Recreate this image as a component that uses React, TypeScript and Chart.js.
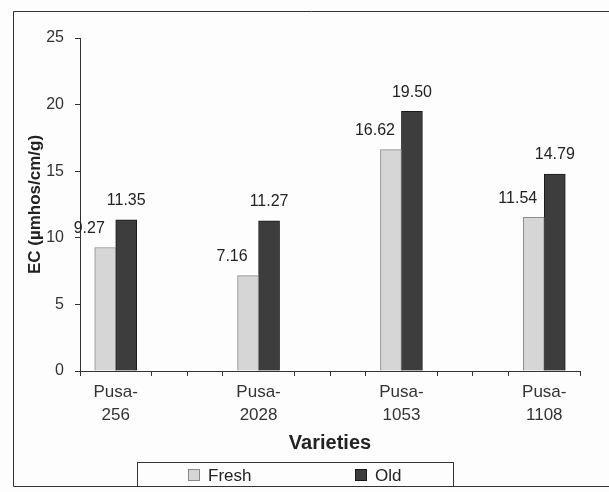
import { useEffect, useRef } from 'react';
import { Chart, registerables } from 'chart.js';

Chart.register(...registerables);

const categories: string[][] = [
  ['Pusa-', '256'],
  ['Pusa-', '2028'],
  ['Pusa-', '1053'],
  ['Pusa-', '1108'],
];
const seriesNames = ['Fresh', 'Old'];
const freshValues = [9.27, 7.16, 16.62, 11.54];
const oldValues = [11.35, 11.27, 19.5, 14.79];
const yMin = 0;
const yMax = 25;
const yStep = 5;
const xTitle = 'Varieties';
const yTitle = 'EC (µmhos/cm/g)';

const FONT = "'Liberation Sans', Arial, sans-serif";
const FRESH_FILL = '#d6d6d6';
const FRESH_BORDER = '#8a8a8a';
const OLD_FILL = '#3d3d3d';
const OLD_BORDER = '#1a1a1a';

const decorPlugin = {
  id: 'decor',
  beforeDraw(chart: any) {
    const { ctx, width, height } = chart;
    ctx.save();
    ctx.fillStyle = '#fdfdfd';
    ctx.fillRect(0, 0, width, height);
    ctx.restore();
  },
  afterDatasetsDraw(chart: any) {
    const { ctx } = chart;
    ctx.save();
    ctx.font = `16px ${FONT}`;
    ctx.fillStyle = '#222';
    ctx.textAlign = 'center';
    ctx.textBaseline = 'middle';
    chart.data.datasets.forEach((ds: any, di: number) => {
      const meta = chart.getDatasetMeta(di);
      meta.data.forEach((el: any, i: number) => {
        const v = ds.data[i].y as number;
        const dx = di === 0 ? -16 : 0;
        ctx.fillText(v.toFixed(2), el.x + dx, el.y - 19);
      });
    });
    ctx.restore();
  },
  afterDraw(chart: any) {
    const { ctx } = chart;
    ctx.save();
    ctx.strokeStyle = '#333';
    ctx.lineWidth = 1;
    ctx.beginPath();
    ctx.moveTo(613, 11.5);
    ctx.lineTo(13.5, 11.5);
    ctx.lineTo(13.5, 486.5);
    ctx.lineTo(613, 486.5);
    ctx.stroke();
    const lx = 137.5, ly = 462.5, lw = 316, lh = 24;
    ctx.strokeRect(lx, ly, lw, lh);
    const items = [
      { name: seriesNames[0], fill: FRESH_FILL, border: FRESH_BORDER, x: 188 },
      { name: seriesNames[1], fill: OLD_FILL, border: OLD_BORDER, x: 355 },
    ];
    ctx.font = `17px ${FONT}`;
    ctx.textAlign = 'left';
    ctx.textBaseline = 'middle';
    items.forEach((it) => {
      ctx.fillStyle = it.fill;
      ctx.fillRect(it.x, 469, 12, 12);
      ctx.strokeStyle = it.border;
      ctx.strokeRect(it.x + 0.5, 469.5, 11, 11);
      ctx.fillStyle = '#222';
      ctx.fillText(it.name, it.x + 20, 476);
    });
    ctx.restore();
  },
};

export default function App() {
  const ref = useRef<HTMLCanvasElement | null>(null);
  useEffect(() => {
    if (!ref.current) return;
    const chart = new Chart(ref.current, {
      type: 'bar',
      data: {
        datasets: [
          {
            label: seriesNames[0],
            data: freshValues.map((y, i) => ({ x: i, y })),
            backgroundColor: FRESH_FILL,
            borderColor: FRESH_BORDER,
            borderWidth: 1,
            barThickness: 21,
          },
          {
            label: seriesNames[1],
            data: oldValues.map((y, i) => ({ x: i, y })),
            backgroundColor: OLD_FILL,
            borderColor: OLD_BORDER,
            borderWidth: 1,
            barThickness: 21,
          },
        ],
      },
      options: {
        responsive: false,
        animation: false,
        layout: { padding: { left: 20, right: 29, top: 38, bottom: 37 } },
        plugins: {
          legend: { display: false },
          tooltip: { enabled: false },
        },
        scales: {
          x: {
            type: 'linear',
            offset: false,
            min: -0.25,
            max: categories.length - 0.75,
            afterBuildTicks: (s: any) => {
              const t = [];
              for (let k = 0; k <= categories.length * 4 - 2; k++) t.push({ value: -0.25 + k * 0.25 });
              s.ticks = t;
            },
            afterFit: (s: any) => {
              s.height = 84;
            },
            border: { display: true, color: '#333', width: 1 },
            grid: {
              offset: false,
              drawOnChartArea: false,
              drawTicks: true,
              tickLength: 5,
              tickColor: (c: any) =>
                c.tick && Number.isInteger(c.tick.value) ? 'rgba(0,0,0,0)' : '#333',
            },
            ticks: {
              autoSkip: false,
              maxRotation: 0,
              minRotation: 0,
              padding: 4,
              color: '#333',
              font: { family: FONT, size: 17, lineHeight: 1.4 },
              callback: (v: any) =>
                Number.isInteger(v) && categories[v] ? categories[v] : '',
            },
            title: {
              display: true,
              text: xTitle,
              color: '#222',
              font: { family: FONT, size: 20, weight: 'bold', lineHeight: 1.2 },
              padding: { top: 0, bottom: 0 },
            },
          },
          y: {
            min: yMin,
            max: yMax,
            afterFit: (s: any) => {
              s.width = 60;
            },
            border: { display: true, color: '#333', width: 1 },
            grid: { drawOnChartArea: false, drawTicks: true, tickLength: 5, tickColor: '#333' },
            ticks: {
              stepSize: yStep,
              padding: 11,
              color: '#333',
              font: { family: FONT, size: 16 },
            },
            title: {
              display: true,
              text: yTitle,
              color: '#222',
              font: { family: FONT, size: 17, weight: 'bold', lineHeight: 1.2 },
              padding: { top: 5, bottom: 0 },
            },
          },
        },
      },
      plugins: [decorPlugin],
    } as any);
    return () => chart.destroy();
  }, []);
  return (
    <div style={{ position: 'absolute', left: 0, top: 0, width: 609, height: 492 }}>
      <canvas ref={ref} width={609} height={492} />
    </div>
  );
}
